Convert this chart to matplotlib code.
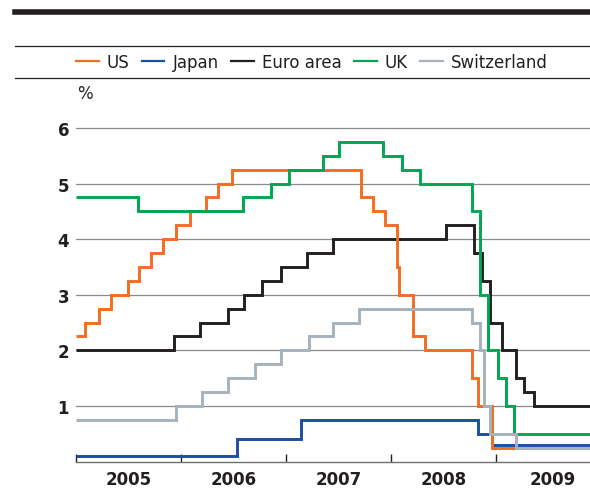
import matplotlib
matplotlib.use("Agg")
import matplotlib.pyplot as plt
from matplotlib.lines import Line2D
import pandas as pd

# policy rates, % - change dates and new levels
us_dates = ["2005-01-01", "2005-02-02", "2005-03-22", "2005-05-03", "2005-06-30",
            "2005-08-09", "2005-09-20", "2005-11-01", "2005-12-13", "2006-01-31",
            "2006-03-28", "2006-05-10", "2006-06-29", "2007-09-18", "2007-10-31",
            "2007-12-11", "2008-01-22", "2008-01-30", "2008-03-18", "2008-04-30",
            "2008-10-08", "2008-10-29", "2008-12-16"]
us_rates = [2.25, 2.5, 2.75, 3.0, 3.25, 3.5, 3.75, 4.0, 4.25, 4.5, 4.75, 5.0, 5.25,
            4.75, 4.5, 4.25, 3.5, 3.0, 2.25, 2.0, 1.5, 1.0, 0.25]

japan_dates = ["2005-01-01", "2006-07-14", "2007-02-21", "2008-10-31", "2008-12-19"]
japan_rates = [0.1, 0.4, 0.75, 0.5, 0.3]

euro_dates = ["2005-01-01", "2005-12-06", "2006-03-08", "2006-06-15", "2006-08-09",
              "2006-10-11", "2006-12-13", "2007-03-14", "2007-06-13", "2008-07-09",
              "2008-10-15", "2008-11-12", "2008-12-10", "2009-01-21", "2009-03-11",
              "2009-04-08", "2009-05-13"]
euro_rates = [2.0, 2.25, 2.5, 2.75, 3.0, 3.25, 3.5, 3.75, 4.0, 4.25, 3.75, 3.25,
              2.5, 2.0, 1.5, 1.25, 1.0]

uk_dates = ["2005-01-01", "2005-08-04", "2006-08-03", "2006-11-09", "2007-01-11",
            "2007-05-10", "2007-07-05", "2007-12-06", "2008-02-07", "2008-04-10",
            "2008-10-08", "2008-11-06", "2008-12-04", "2009-01-08", "2009-02-05",
            "2009-03-05"]
uk_rates = [4.75, 4.5, 4.75, 5.0, 5.25, 5.5, 5.75, 5.5, 5.25, 5.0, 4.5, 3.0, 2.0,
            1.5, 1.0, 0.5]

swiss_dates = ["2005-01-01", "2005-12-15", "2006-03-16", "2006-06-15", "2006-09-14",
               "2006-12-14", "2007-03-22", "2007-06-14", "2007-09-13", "2008-10-08",
               "2008-11-06", "2008-11-20", "2008-12-11", "2009-03-12"]
swiss_rates = [0.75, 1.0, 1.25, 1.5, 1.75, 2.0, 2.25, 2.5, 2.75, 2.5, 2.0, 1.0,
               0.5, 0.25]

end_date = "2009-11-23"
years = [2005, 2006, 2007, 2008, 2009]
year_label_dates = ["2005-07-02", "2006-07-02", "2007-07-02", "2008-07-02", "2009-07-18"]
y_ticks = [1, 2, 3, 4, 5, 6]

series = [
    ("US", us_dates, us_rates, "#F26C22", 4),
    ("Japan", japan_dates, japan_rates, "#1B4FA0", 2),
    ("Euro area", euro_dates, euro_rates, "#231F20", 3),
    ("UK", uk_dates, uk_rates, "#00A651", 5),
    ("Switzerland", swiss_dates, swiss_rates, "#A6B2BC", 6),
]

dark = "#231F20"
plt.rcParams["font.family"] = ["DejaVu Sans"]

fig = plt.figure(figsize=(5.9, 4.89), dpi=100)
ax = fig.add_axes([76 / 590, 1 - 462.5 / 489, 1 - 76 / 590, (462.5 - 106.7) / 489])

handles = []
for name, dates, rates, color, z in series:
    x = pd.to_datetime(dates + [end_date])
    y = rates + [rates[-1]]
    ax.plot(x, y, drawstyle="steps-post", color=color, lw=2.1, zorder=z,
            solid_joinstyle="miter", solid_capstyle="butt")
    handles.append(Line2D([], [], color=color, lw=1.6))

ax.set_xlim(pd.Timestamp("2005-01-01"), pd.Timestamp(end_date))
ax.set_ylim(0, 6.4)

# y axis: gridlines and bold labels, no tick marks
ax.set_yticks(y_ticks)
ax.set_yticklabels([str(v) for v in y_ticks], fontsize=12, fontweight="bold", color=dark)
ax.tick_params(axis="y", length=0, pad=5)
ax.yaxis.grid(True, color="#8a8a8a", lw=0.9)
ax.set_axisbelow(True)

# x axis: ticks at year starts, labels centred in each year
ax.set_xticks(pd.to_datetime([f"{yr}-01-01" for yr in years]))
ax.set_xticklabels([])
ax.set_xticks(pd.to_datetime(year_label_dates), minor=True)
ax.set_xticklabels([str(yr) for yr in years], minor=True, fontsize=12,
                   fontweight="bold", color=dark)
ax.tick_params(axis="x", which="major", direction="in", length=6, width=1, color=dark)
ax.tick_params(axis="x", which="minor", length=0, pad=6)

for side in ["top", "right", "left"]:
    ax.spines[side].set_visible(False)
ax.spines["bottom"].set_color("#6f6f6f")
ax.spines["bottom"].set_linewidth(1.0)

# header rules
fig.add_artist(Line2D([15 / 590, 1], [1 - 13 / 489] * 2, color=dark, lw=4.0))
fig.add_artist(Line2D([15 / 590, 1], [1 - 47 / 489] * 2, color=dark, lw=0.9))
fig.add_artist(Line2D([15 / 590, 1], [1 - 79 / 489] * 2, color=dark, lw=0.9))

fig.legend(handles, [s[0] for s in series], loc="center left",
           bbox_to_anchor=(76 / 590, 1 - 63 / 489), ncol=5, frameon=False,
           fontsize=12, handlelength=1.35, handletextpad=0.5, columnspacing=0.74,
           borderpad=0, borderaxespad=0, labelcolor=dark)

fig.text(77 / 590, 1 - 94 / 489, "%", fontsize=12, color=dark, va="center", ha="left")

fig.savefig("out.png", dpi=100)
